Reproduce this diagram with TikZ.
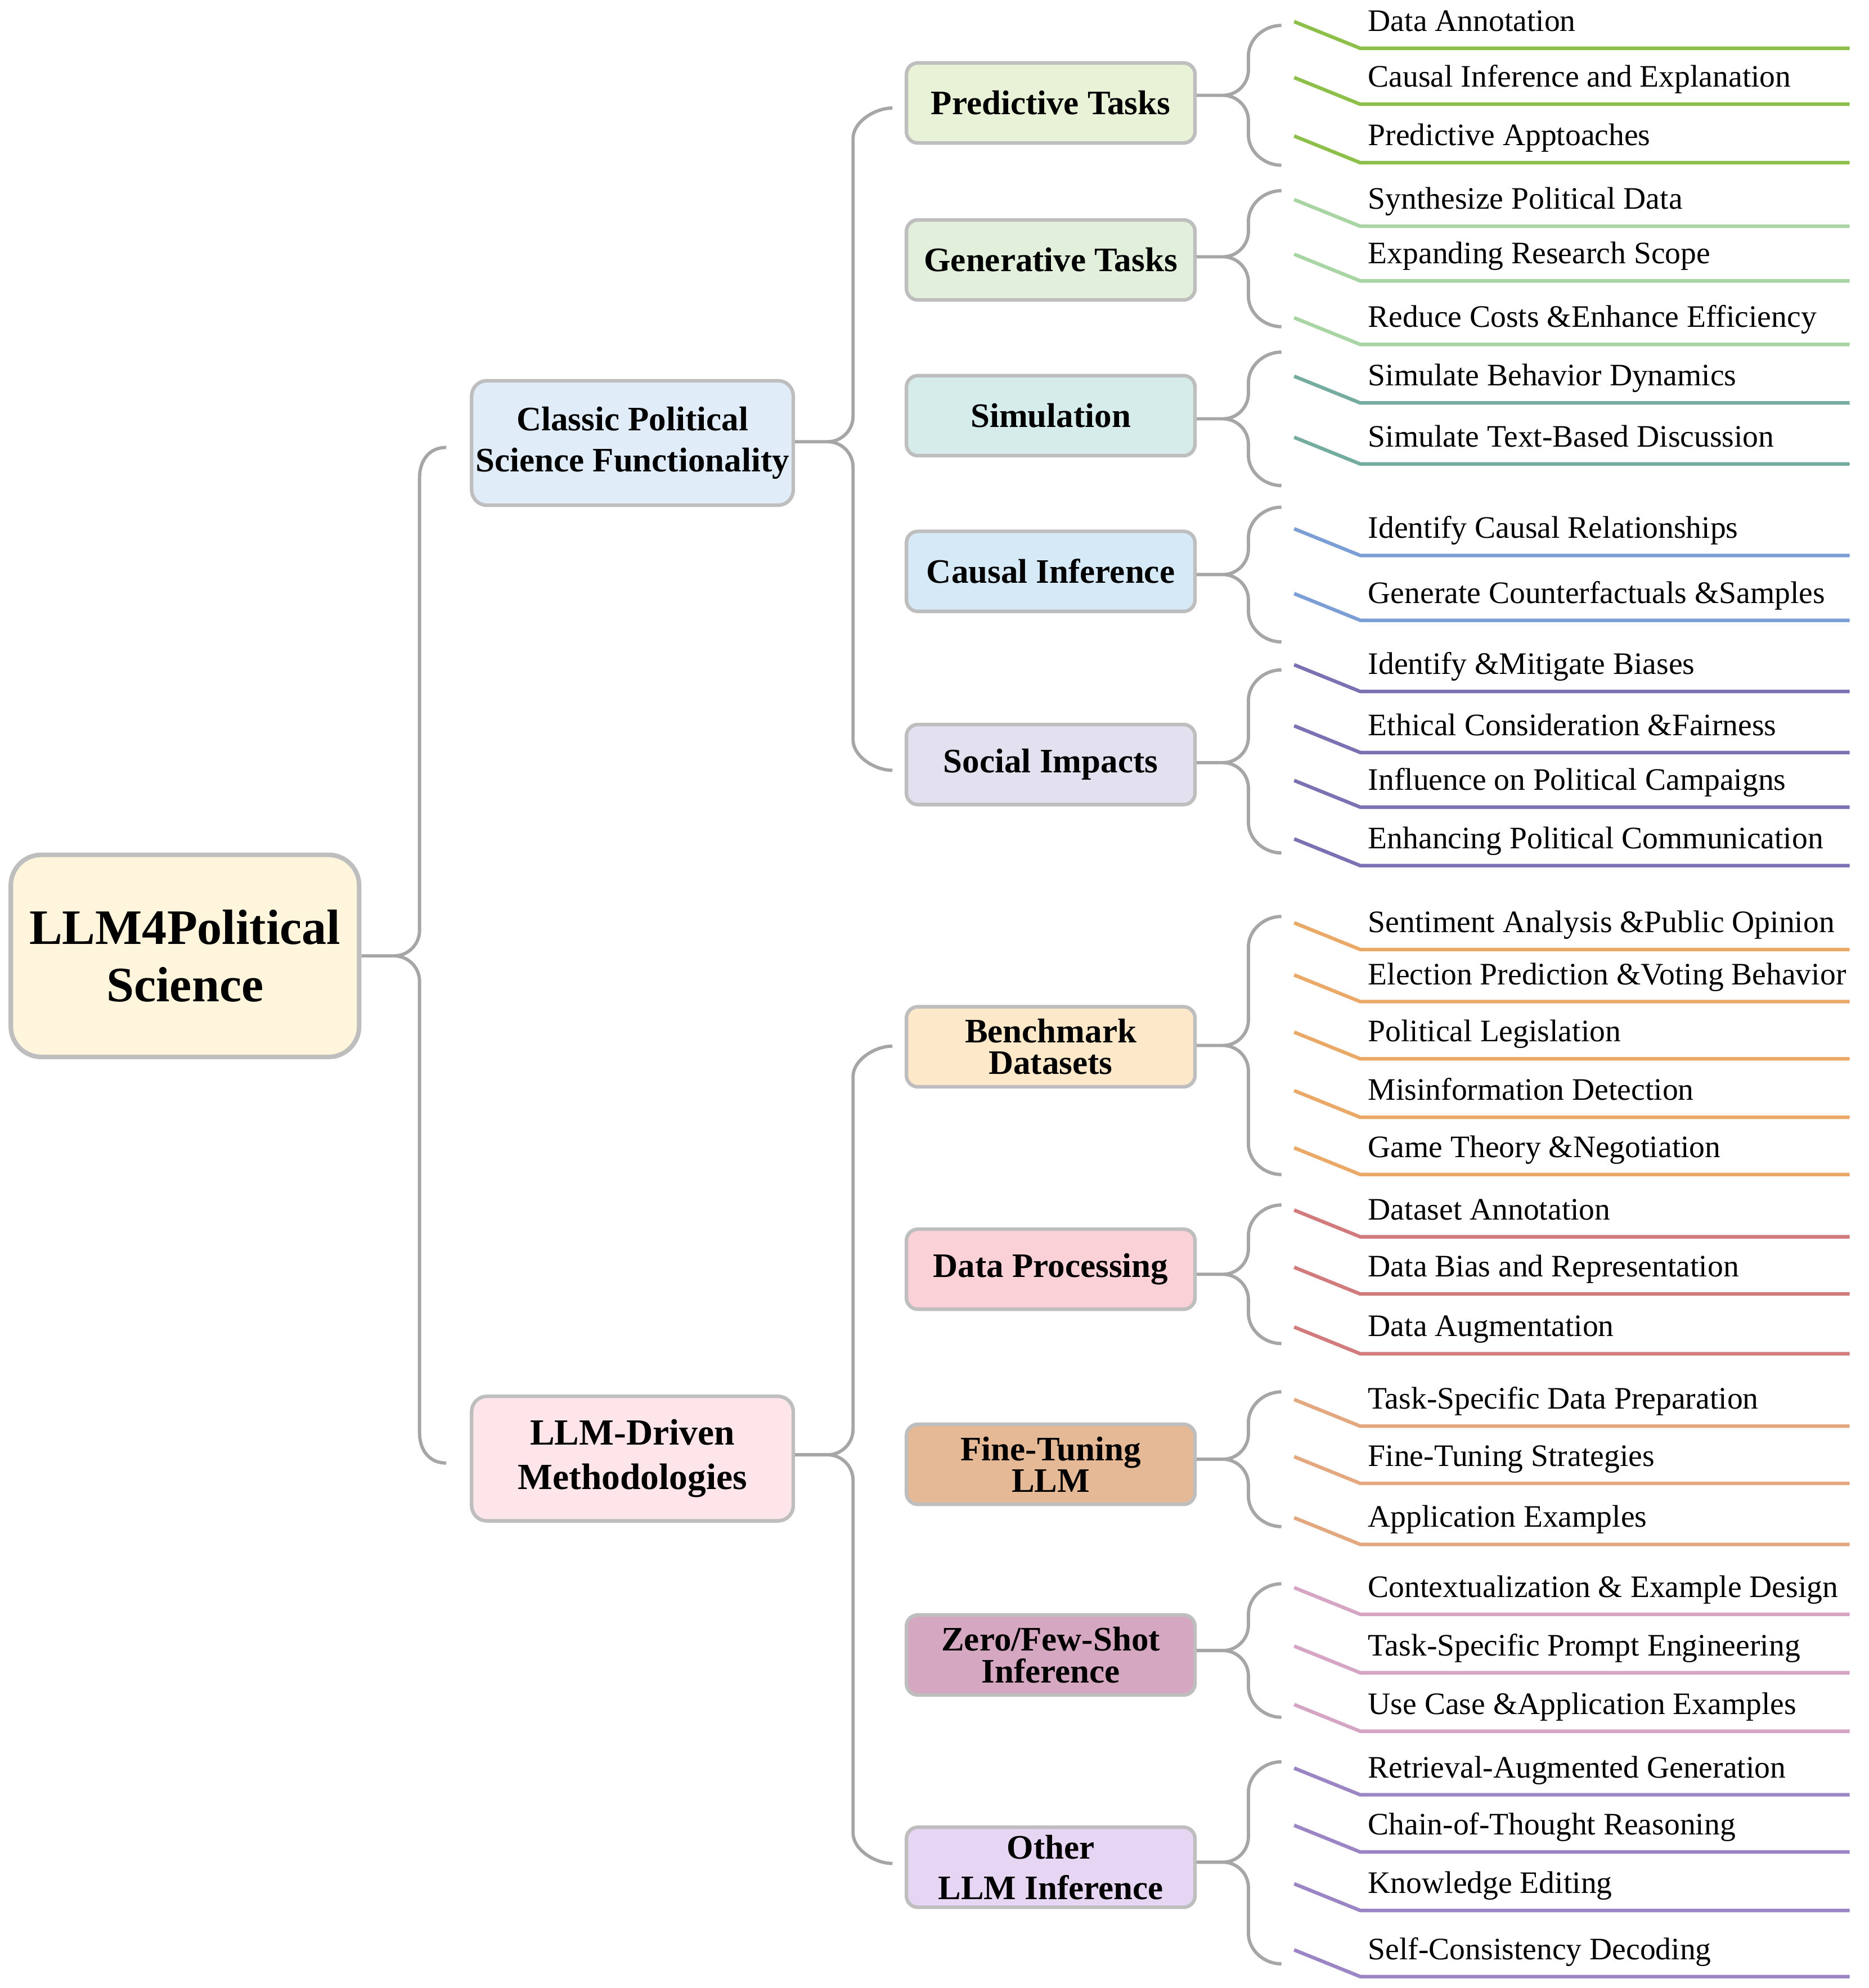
\documentclass[tikz,border=0pt]{standalone}
\usepackage{xcolor}
\usepackage{fontspec}
\setmainfont{Liberation Serif}
\usepackage{tikz}
\usetikzlibrary{calc}

\definecolor{conngray}{HTML}{A6A6A6}
\definecolor{boxgray}{HTML}{BEBEBE}
\definecolor{rootfill}{HTML}{FFF4DC}
\definecolor{clsfill}{HTML}{E0EDF9}
\definecolor{llmfill}{HTML}{FDE5E9}
\definecolor{predfill}{HTML}{E8F2D6}
\definecolor{genfill}{HTML}{E2EFDB}
\definecolor{simfill}{HTML}{D5ECEA}
\definecolor{caufill}{HTML}{D6E9F6}
\definecolor{socfill}{HTML}{E3E0EF}
\definecolor{benfill}{HTML}{FDE8C9}
\definecolor{datfill}{HTML}{F9D1D6}
\definecolor{finfill}{HTML}{E6B996}
\definecolor{zerfill}{HTML}{D5A7C0}
\definecolor{othfill}{HTML}{E6D5F3}
\definecolor{predline}{HTML}{8DBF4B}
\definecolor{genline}{HTML}{A8D5A3}
\definecolor{simline}{HTML}{74AC9F}
\definecolor{cauline}{HTML}{7B9FD4}
\definecolor{socline}{HTML}{7C72B3}
\definecolor{benline}{HTML}{EBA967}
\definecolor{datline}{HTML}{D27B7C}
\definecolor{finline}{HTML}{E3A87F}
\definecolor{zerline}{HTML}{D6A5C3}
\definecolor{othline}{HTML}{9B85C4}

\tikzset{
  conn/.style={draw=conngray, line width=2.6pt},
  box/.style={draw=boxgray, line width=2.8pt, align=center, inner sep=0pt},
  rootbox/.style={box, line width=3.6pt, rounded corners=24pt, minimum width=274pt, minimum height=159pt, fill=rootfill, font=\fontsize{39}{45}\selectfont\bfseries},
  midbox/.style={box, rounded corners=12pt, minimum width=253pt, minimum height=98pt, font=\fontsize{27}{32}\selectfont\bfseries},
  subbox/.style={box, rounded corners=9pt, minimum width=227pt, minimum height=63pt, font=\fontsize{27}{25}\selectfont\bfseries},
  leaf/.style={anchor=base west, inner sep=0pt, font=\fontsize{24.6}{25}\selectfont},
  leafline/.style={line width=2.8pt},
}

% brace from a parent node to two free ends
\newcommand{\curly}[6]{%
  \coordinate (#1-top) at (#2,#3);
  \coordinate (#1-bot) at (#2,#4);
  \draw[conn] let \p0=($(#1.east)+(0,#6)$), \p1=(#1-top), \p2=(#1-bot), \p3=($(#1-top)+(-#5,0)$) in
    (\p1) .. controls (\x1-14pt,\y1) and (\x3,\y1-11pt) .. (\x3,\y1-24pt)
    -- (\x3,\y0+20pt) .. controls (\x3,\y0+9pt) and (\x3-9pt,\y0) .. (\x3-20pt,\y0)
    .. controls (\x3-9pt,\y0) and (\x3,\y0-9pt) .. (\x3,\y0-20pt)
    -- (\x3,\y2+24pt) .. controls (\x3,\y2+11pt) and (\x2-14pt,\y2) .. (\p2)
    (\x3-20pt,\y0) -- (#1.east |- \p0);
}

% leaf text with its underline
\newcommand{\leafitem}[3]{%
  \node[leaf] (leaf#1) at (1076,#1-13.5) {#2};
  \draw[leafline, #3] (1018,#1-21) -- (1070,#1) -- (1455,#1);
}

\begin{document}
\begin{tikzpicture}[x=1pt, y=-1pt]
  \useasboundingbox (0,0) rectangle (1470,1564);

  \node[rootbox] (root) at (145.5,752) {LLM4Political\\Science};

  \node[midbox, fill=clsfill] (cls) at (497.5,348.5) {Classic Political\\Science Functionality};
  \node[midbox, fill=llmfill, font=\fontsize{29}{35}\selectfont\bfseries] (llm) at (497.5,1147.5) {LLM-Driven\\Methodologies};

  \node[subbox, fill=predfill] (pred) at (826.5,81) {Predictive Tasks};
  \node[subbox, fill=genfill] (gen) at (826.5,204.5) {Generative Tasks};
  \node[subbox, fill=simfill] (sim) at (826.5,327) {Simulation};
  \node[subbox, fill=caufill] (cau) at (826.5,449.5) {Causal Inference};
  \node[subbox, fill=socfill] (soc) at (826.5,601.5) {Social Impacts};
  \node[subbox, fill=benfill] (ben) at (826.5,823.5) {Benchmark\\Datasets};
  \node[subbox, fill=datfill] (dat) at (826.5,998.5) {Data Processing};
  \node[subbox, fill=finfill] (fin) at (826.5,1152) {Fine-Tuning\\LLM};
  \node[subbox, fill=zerfill] (zer) at (826.5,1302) {Zero/Few-Shot\\Inference};
  \node[subbox, fill=othfill, font=\fontsize{27}{32}\selectfont\bfseries] (oth) at (826.5,1469) {Other\\LLM Inference};

  % braces
  \curly{root}{351}{352}{1151}{21}{0}
  \curly{cls}{702}{85}{606}{31}{-1}
  \curly{llm}{702}{823}{1466}{31}{-3}
  \curly{pred}{1008}{20}{130}{26}{-6}
  \curly{gen}{1008}{150}{257}{26}{-2.5}
  \curly{sim}{1008}{277}{382}{26}{2.5}
  \curly{cau}{1008}{399}{505}{26}{2.5}
  \curly{soc}{1008}{527}{671}{26}{-1.5}
  \curly{ben}{1008}{721}{924}{26}{-1}
  \curly{dat}{1008}{948}{1057}{26}{4}
  \curly{fin}{1008}{1095}{1201}{26}{-4}
  \curly{zer}{1008}{1246}{1351}{26}{-3.5}
  \curly{oth}{1008}{1386}{1545}{26}{-4}

  % leaves
  \foreach \y/\t in {38/Data Annotation, 82/Causal Inference and Explanation, 128/Predictive Apptoaches}
    {\leafitem{\y}{\t}{predline}}
  \foreach \y/\t in {178/Synthesize Political Data, 221/Expanding Research Scope, 271/Reduce Costs \&Enhance Efficiency}
    {\leafitem{\y}{\t}{genline}}
  \foreach \y/\t in {317/Simulate Behavior Dynamics, 365/Simulate Text-Based Discussion}
    {\leafitem{\y}{\t}{simline}}
  \foreach \y/\t in {437/Identify Causal Relationships, 488/Generate Counterfactuals \&Samples}
    {\leafitem{\y}{\t}{cauline}}
  \foreach \y/\t in {544/Identify \&Mitigate Biases, 592/Ethical Consideration \&Fairness, 635/Influence on Political Campaigns, 681/Enhancing Political Communication}
    {\leafitem{\y}{\t}{socline}}
  \foreach \y/\t in {747/Sentiment Analysis \&Public Opinion, 788/Election Prediction \&Voting Behavior, 833/Political Legislation, 879/Misinformation Detection, 924/Game Theory \&Negotiation}
    {\leafitem{\y}{\t}{benline}}
  \foreach \y/\t in {973/Dataset Annotation, 1018/Data Bias and Representation, 1065/Data Augmentation}
    {\leafitem{\y}{\t}{datline}}
  \foreach \y/\t in {1122/Task-Specific Data Preparation, 1167/Fine-Tuning Strategies, 1215/Application Examples}
    {\leafitem{\y}{\t}{finline}}
  \foreach \y/\t in {1270/Contextualization \& Example Design, 1316/Task-Specific Prompt Engineering, 1362/Use Case \&Application Examples}
    {\leafitem{\y}{\t}{zerline}}
  \foreach \y/\t in {1412/Retrieval-Augmented Generation, 1457/Chain-of-Thought Reasoning, 1503/Knowledge Editing, 1555/Self-Consistency Decoding}
    {\leafitem{\y}{\t}{othline}}
\end{tikzpicture}
\end{document}
